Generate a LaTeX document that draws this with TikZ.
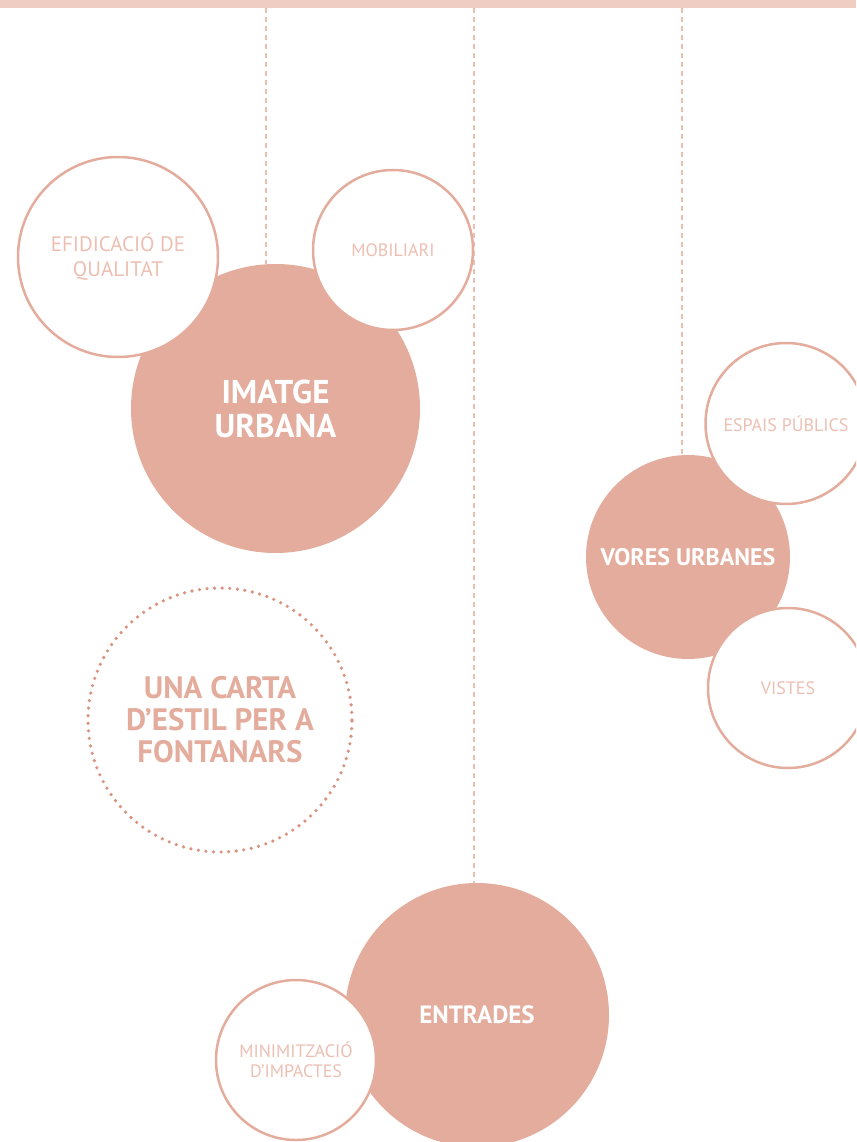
\documentclass[tikz,border=0pt]{standalone}
\usepackage{fontspec}
\setmainfont{PT Sans}
\usetikzlibrary{backgrounds}

\definecolor{salmon}{HTML}{E3AC9C}
\definecolor{blush}{HTML}{EDBFB2}
\definecolor{barpink}{HTML}{F0CDC3}
\definecolor{dotpink}{HTML}{D9937F}

\begin{document}
\begin{tikzpicture}[
        %We work in pixels and define some styles
        x=1pt, y=-1pt,
        main circle/.style={circle, fill=salmon, text=white, inner sep=0pt, align=center},
        sub circle/.style={circle, draw=salmon, line width=2.5pt, fill=white, text=blush, inner sep=0pt, align=center},
        dotted ring/.style={circle, draw=dotpink, line width=3.6pt, line cap=round, dash pattern=on 0pt off 7.6pt, text=salmon, inner sep=0pt, align=center},
        hang line/.style={blush, line width=1.6pt, dash pattern=on 5pt off 4pt},
        big label/.style={font=\bfseries\fontsize{33}{34}\selectfont},
        mid label/.style={font=\bfseries\fontsize{25}{28}\selectfont},
        small label/.style={font=\fontsize{18}{20}\selectfont}
     ]
    \useasboundingbox (0,0) rectangle (856,1142);
    \clip (0,0) rectangle (856,1142);
    % Hanging points under the top bar
    \coordinate (top_1) at (266,8);
    \coordinate (top_2) at (474,8);
    \coordinate (top_3) at (682,8);

    % The main circles
    \node[main circle, minimum size=289, big label] (imatge) at (275.5,408.5) {IMATGE\\URBANA};
    \node[main circle, minimum size=204, font=\bfseries\fontsize{24}{28}\selectfont] (vores) at (688,557) {VORES URBANES};
    \node[main circle, minimum size=264, mid label] (entrades) at (477,1015) {ENTRADES};

    % The smaller circles around them
    \node[sub circle, minimum size=200, font=\fontsize{21}{25}\selectfont] (efid) at (118,257) {EFIDICACIÓ DE\\QUALITAT};
    \node[sub circle, minimum size=160, small label] (mobil) at (393,250) {MOBILIARI};
    \node[sub circle, minimum size=161, small label] (espais) at (786,423.5) {ESPAIS PÚBLICS};
    \node[sub circle, minimum size=160, small label] (vistes) at (788,688) {VISTES};
    \node[sub circle, minimum size=160, small label] (minim) at (296,1060) {MINIMITZACIÓ\\D’IMPACTES};

    % The title in the dotted ring
    \node[dotted ring, minimum size=264, font=\bfseries\fontsize{31}{32}\selectfont] (carta) at (220,720) {UNA CARTA\\D’ESTIL PER A\\FONTANARS};

    % bar and hanging lines go behind
    \begin{scope}[on background layer]
        \fill[barpink] (0,0) rectangle (856,8);
        \draw[hang line] (top_1) -- (top_1 |- imatge.north);
        \draw[hang line] (top_2) -- (top_2 |- entrades.north);
        \draw[hang line] (top_3) -- (top_3 |- vores.north);
    \end{scope}
\end{tikzpicture}
\end{document}
